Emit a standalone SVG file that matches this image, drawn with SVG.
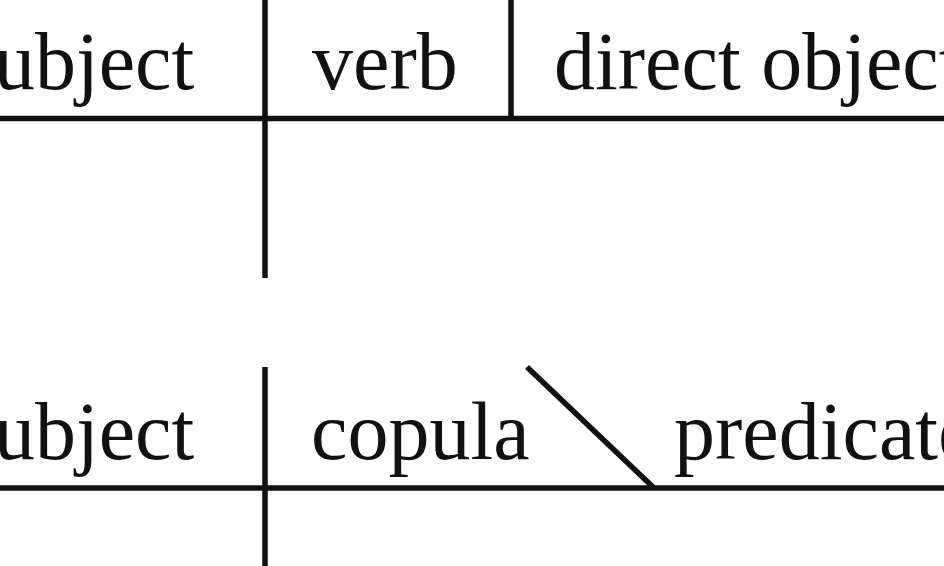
<svg xmlns="http://www.w3.org/2000/svg" width="944" height="566" viewBox="0 0 944 566">
<style>
.t{font-family:"Liberation Serif","Times New Roman",serif;font-size:82px;fill:#111}
.l{stroke:#111;stroke-width:5.5;fill:none;stroke-linecap:butt}
</style>
<rect width="944" height="566" fill="#fff"/>
<g id="connectors">
<line class="l" x1="0" y1="118.5" x2="944" y2="118.5"/>
<line class="l" x1="265" y1="0" x2="265" y2="278"/>
<line class="l" x1="511" y1="0" x2="511" y2="118.5"/>
<line class="l" x1="0" y1="488" x2="944" y2="488"/>
<line class="l" x1="265" y1="367" x2="265" y2="566"/>
<line class="l" x1="527" y1="367" x2="654" y2="488"/>
</g>
<g id="subject1"><text class="t" x="-38" y="89">subject</text></g>
<g id="verb"><text class="t" x="312" y="89">verb</text></g>
<g id="direct-object"><text class="t" x="554" y="89">direct object</text></g>
<g id="subject2"><text class="t" x="-38" y="459">subject</text></g>
<g id="copula"><text class="t" x="311" y="459">copula</text></g>
<g id="predicate"><text class="t" x="674" y="459">predicate</text></g>
</svg>
